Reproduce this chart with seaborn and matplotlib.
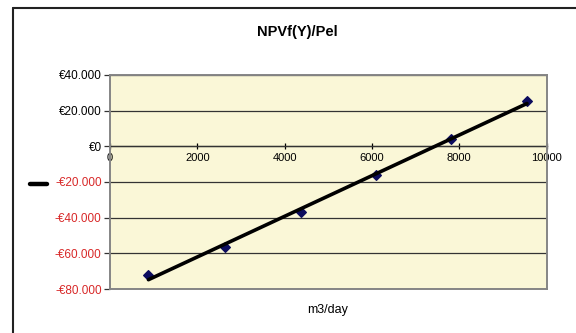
import matplotlib
matplotlib.use("Agg")
import matplotlib.pyplot as plt
from matplotlib.lines import Line2D
from matplotlib.ticker import FuncFormatter
import seaborn as sns
import pandas as pd

# Capacity (m3/day) and net present value (EUR)
capacity = [880, 2630, 4370, 6090, 7800, 9550]
npv = [-72000, -56500, -37000, -16000, 4000, 25500]
y_ticks = [-80000, -60000, -40000, -20000, 0, 20000, 40000]
x_ticks = [0, 2000, 4000, 6000, 8000, 10000]

df = pd.DataFrame({"m3/day": capacity, "NPV": npv})

sns.set_style("white")
plt.rcParams["font.family"] = ["Liberation Sans", "DejaVu Sans"]
plt.rcParams["text.color"] = "black"
plt.rcParams["xtick.color"] = "black"
plt.rcParams["ytick.color"] = "black"

fig = plt.figure(figsize=(5.76, 3.33), dpi=100)
ax = fig.add_axes([0.191, 0.132, 0.758, 0.643])
ax.set_facecolor("#faf7d7")

sns.regplot(data=df, x="m3/day", y="NPV", ax=ax, ci=None, truncate=True,
            marker="D",
            scatter_kws={"s": 24, "color": "#0c0c5e", "alpha": 1,
                         "edgecolors": "#0c0c5e", "zorder": 3},
            line_kws={"color": "black", "lw": 2.6, "zorder": 4})

ax.set_xlim(0, 10000)
ax.set_ylim(-80000, 40000)
ax.set_yticks(y_ticks)
ax.yaxis.grid(True, color="#333333", lw=0.9)
ax.xaxis.grid(False)


def euro(v, pos):
    v = int(round(v))
    s = f"{abs(v):,}".replace(",", ".")
    return f"-€{s}" if v < 0 else f"€{s}"


ax.yaxis.set_major_formatter(FuncFormatter(euro))
ax.tick_params(axis="y", which="major", direction="out", length=4, width=0.9,
               color="#333333", labelsize=8.5, pad=2, left=True)
for lbl, val in zip(ax.get_yticklabels(), y_ticks):
    lbl.set_color("#d82828" if val < 0 else "black")

# hide the default x axis; the category axis sits on the zero line
ax.tick_params(axis="x", bottom=False, labelbottom=False)
ax.set_xlabel("")
ax.set_ylabel("")
for side in ["left", "right", "top", "bottom"]:
    ax.spines[side].set_color("#858585")
    ax.spines[side].set_linewidth(1.4)

zero_frac = (0 - (-80000)) / (40000 - (-80000))
sec = ax.secondary_xaxis(zero_frac)
sec.set_xticks(x_ticks)
sec.set_xticklabels([str(t) for t in x_ticks])
sec.xaxis.set_ticks_position("bottom")
sec.xaxis.set_label_position("bottom")
sec.tick_params(axis="x", direction="inout", length=5, width=0.9, color="black",
                labelsize=8, pad=2, bottom=True, top=False,
                labelbottom=True, labeltop=False)
for side in ["top", "bottom"]:
    sec.spines[side].set_color("black")
    sec.spines[side].set_linewidth(0.9)

fig.text(0.516, 0.903, "NPVf(Y)/Pel", ha="center", va="center",
         fontsize=10.5, fontweight="bold")
fig.text(0.568, 0.069, "m3/day", ha="center", va="center", fontsize=9)

# legend key
fig.add_artist(Line2D([30 / 576, 47 / 576], [1 - 184 / 333, 1 - 184 / 333],
                      color="black", lw=3.2, transform=fig.transFigure))

# chart area border
fig.add_artist(Line2D([13 / 576, 13 / 576], [0, 1 - 8 / 333], color="#222222",
                      lw=1.5, transform=fig.transFigure))
fig.add_artist(Line2D([13 / 576, 1], [1 - 8 / 333, 1 - 8 / 333], color="#222222",
                      lw=1.5, transform=fig.transFigure))

fig.savefig("out.png", dpi=100)
